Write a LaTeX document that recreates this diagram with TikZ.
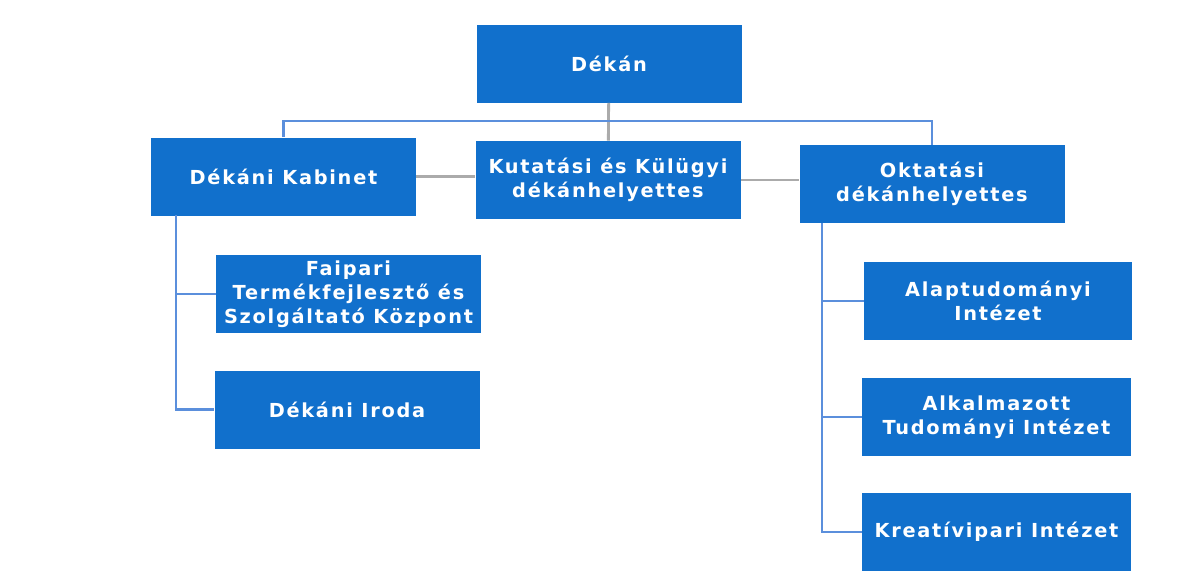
\documentclass[tikz,border=0pt]{standalone}
\usepackage{fontspec}
\setsansfont{DejaVu Sans}[LetterSpace=9]
\usetikzlibrary{calc}
\definecolor{unitblue}{HTML}{1170CC}
\definecolor{linkblue}{HTML}{5B8FDC}
\definecolor{linkgray}{HTML}{ABABAB}
\tikzset{
    unit/.style={rectangle, fill=unitblue, text=white, align=center,
        minimum width=5.3cm, minimum height=1.56cm, inner sep=0pt,
        font=\sffamily\bfseries\fontsize{11}{13.7}\selectfont},
    bluelink/.style={draw=linkblue, line width=1.4pt},
    graylink/.style={draw=linkgray, line width=1.6pt}
}

\begin{document}
\begin{tikzpicture}
	\useasboundingbox (0cm,0cm) rectangle (23.84cm,-11.42cm);
	\node [unit] (dekan) at (12.18cm,-1.27cm) {Dékán};
	\node [unit] (kabinet) at (5.67cm,-3.53cm) {Dékáni Kabinet};
	\node [unit] (kutat) at (12.16cm,-3.60cm) {Kutatási és Külügyi\\dékánhelyettes};
	\node [unit] (oktat) at (18.64cm,-3.68cm) {Oktatási\\dékánhelyettes};
	\node [unit] (faipar) at (6.97cm,-5.88cm) {Faipari\\Termékfejlesztő és\\Szolgáltató Központ};
	\node [unit] (iroda) at (6.94cm,-8.19cm) {Dékáni Iroda};
	\node [unit, minimum width=5.36cm] (alap) at (19.96cm,-6.02cm) {Alaptudományi\\Intézet};
	\node [unit, minimum width=5.38cm] (alkalm) at (19.93cm,-8.34cm) {Alkalmazott\\Tudományi Intézet};
	\node [unit, minimum width=5.38cm] (kreat) at (19.93cm,-10.64cm) {Kreatívipari Intézet};
	\coordinate (hub) at (12.18cm,-2.42cm);
	\coordinate (kb) at (3.52cm,-4.30cm);
	\coordinate (ok) at (16.44cm,-4.46cm);
	\draw [graylink] (dekan) -- (kutat);
	\draw [graylink] (kabinet.east) -- (kabinet.east -| kutat.west);
	\draw [graylink] (kutat.east) -- (kutat.east -| oktat.west);
	\draw [bluelink] (kabinet.north) |- (hub) -| (oktat.north);
	\draw [bluelink] (kb) |- (faipar.west);
	\draw [bluelink] (kb) |- (iroda.west);
	\draw [bluelink] (ok) |- (alap.west);
	\draw [bluelink] (ok) |- (alkalm.west);
	\draw [bluelink] (ok) |- (kreat.west);
\end{tikzpicture}
\end{document}
